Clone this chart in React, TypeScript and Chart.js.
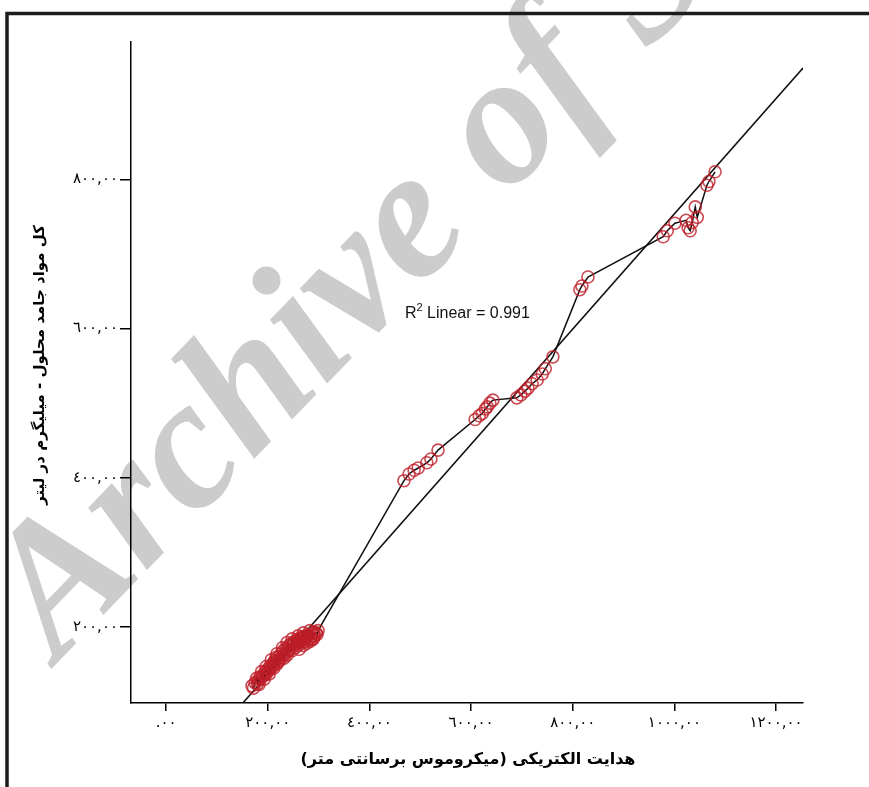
import React, { useEffect, useRef } from "react";
import { Chart, registerables } from "chart.js";

Chart.register(...registerables);

// Electrical conductivity (x) and total dissolved solids (y)
const ecValues = [
  169, 175, 181, 185, 191, 195, 199, 201, 205, 209, 211, 214, 216, 220, 222, 226, 228, 230, 234, 236,
  240, 242, 244, 246, 250, 252, 256, 258, 262, 264, 268, 271, 275, 279, 285, 289, 295, 299,
  183, 193, 203, 212, 218, 224, 232, 238, 248, 254, 260, 266, 273, 281, 287, 292,
  178, 188, 197, 207, 218, 229, 238, 248, 260, 270, 283,
  172, 180, 187, 196, 205, 213, 221, 231, 241, 251, 259, 267, 277, 291, 297,
  262, 270, 277, 284, 290,
  468, 478, 488, 496, 513, 521, 535,
  608, 616, 622, 628, 632, 637, 643,
  690, 698, 706, 712, 720, 730, 740, 746, 761,
  814, 818, 830,
  978, 986, 1001, 1023, 1027, 1031, 1035, 1041, 1045, 1064, 1068, 1080,
];
const tdsValues = [
  121, 125, 128, 133, 135, 140, 139, 144, 148, 147, 152, 155, 159, 153, 160, 164, 159, 168, 163, 171,
  167, 175, 169, 178, 175, 180, 177, 183, 180, 185, 183, 187, 184, 188, 187, 191, 192, 195,
  123, 130, 137, 145, 150, 155, 158, 162, 168, 172, 175, 178, 180, 183, 184, 188,
  131, 140, 147, 156, 164, 172, 179, 184, 188, 192, 195,
  118, 124, 131, 136, 143, 150, 156, 164, 170, 178, 181, 186, 189, 193, 190,
  170, 175, 178, 181, 184,
  396, 405, 410, 413, 420, 425, 437,
  478, 483, 486, 492, 495, 500, 504,
  507, 511, 516, 520, 526, 531, 539, 546, 562,
  652, 657, 669,
  723, 731, 741, 745, 735, 731, 742, 763, 749, 792, 797, 810,
];

// Linear fit line end points
const fitLineX = [151, 1253];
const fitLineY = [98, 949];
const r2Text = "0.991";

const xTickValues = [0, 200, 400, 600, 800, 1000, 1200];
const xTickLabels = [".٠٠", "٢٠٠,٠٠", "٤٠٠,٠٠", "٦٠٠,٠٠", "٨٠٠,٠٠", "١٠٠٠,٠٠", "١٢٠٠,٠٠"];
const yTickValues = [200, 400, 600, 800];
const yTickLabels = ["٢٠٠,٠٠", "٤٠٠,٠٠", "٦٠٠,٠٠", "٨٠٠,٠٠"];

const xTitle = "هدایت الکتریکی (میکروموس برسانتی متر)";
const yTitle = "کل مواد جامد محلول - میلیگرم در لیتر";
const watermark = "Archive of SID";

const decorPlugin = {
  id: "decor",
  beforeDraw(chart: any) {
    const ctx = chart.ctx as CanvasRenderingContext2D;
    ctx.save();
    ctx.fillStyle = "#ffffff";
    ctx.fillRect(0, 0, chart.width, chart.height);
    ctx.translate(58, 662);
    ctx.rotate((-46 * Math.PI) / 180);
    ctx.font = 'italic bold 186px "Liberation Serif"';
    ctx.fillStyle = "#cccccc";
    ctx.textBaseline = "alphabetic";
    ctx.fillText(watermark, 0, 0);
    ctx.restore();
  },
  afterDraw(chart: any) {
    const ctx = chart.ctx as CanvasRenderingContext2D;
    ctx.save();
    // frame
    ctx.strokeStyle = "#1c1c1c";
    ctx.lineWidth = 3.5;
    ctx.strokeRect(7, 13.5, 1200, 1200);

    // x title
    ctx.fillStyle = "#000";
    ctx.direction = "rtl";
    ctx.textAlign = "center";
    ctx.textBaseline = "alphabetic";
    ctx.font = 'bold 16px "DejaVu Sans"';
    ctx.fillText(xTitle, 468, 764);

    // y title
    ctx.save();
    ctx.translate(40, 365);
    ctx.rotate(-Math.PI / 2);
    ctx.textBaseline = "middle";
    ctx.font = 'bold 15px "DejaVu Sans"';
    ctx.fillText(yTitle, 0, 0);
    ctx.restore();

    // R2 annotation
    ctx.direction = "ltr";
    ctx.textAlign = "left";
    ctx.textBaseline = "alphabetic";
    ctx.fillStyle = "#111";
    let x = 405;
    const base = 318;
    ctx.font = '16px "Liberation Sans"';
    ctx.fillText("R", x, base);
    x += ctx.measureText("R").width;
    ctx.font = '11px "Liberation Sans"';
    ctx.fillText("2", x, base - 7);
    x += ctx.measureText("2").width;
    ctx.font = '16px "Liberation Sans"';
    ctx.fillText(" Linear = " + r2Text, x, base);
    ctx.restore();
  },
};

export default function App() {
  const ref = useRef<HTMLCanvasElement | null>(null);

  useEffect(() => {
    if (!ref.current) return;
    const points = ecValues
      .map((v, i) => ({ x: v, y: tdsValues[i] }))
      .sort((a, b) => a.x - b.x);
    const fit = fitLineX.map((v, i) => ({ x: v, y: fitLineY[i] }));
    const chart = new Chart(ref.current, {
      type: "scatter",
      data: {
        datasets: [
          {
            label: "observed",
            data: points,
            showLine: false,
            pointStyle: "circle",
            pointRadius: 6,
            borderWidth: 1.6,
            borderColor: "rgba(190,30,40,0.8)",
            backgroundColor: "rgba(0,0,0,0)",
          },
          {
            label: "fit",
            data: fit,
            showLine: true,
            borderColor: "#111",
            borderWidth: 1.6,
            pointRadius: 0,
            tension: 0,
          },
          {
            label: "interpolation",
            data: points,
            showLine: true,
            borderColor: "#111",
            borderWidth: 1.5,
            pointRadius: 0,
            tension: 0,
          },
        ],
      },
      options: {
        responsive: false,
        animation: false,
        layout: { padding: { top: 42, right: 66, left: 0, bottom: 0 } },
        plugins: {
          legend: { display: false },
          tooltip: { enabled: false },
          title: { display: false },
        },
        scales: {
          x: {
            type: "linear",
            min: -69,
            max: 1253,
            afterBuildTicks: (scale: any) => {
              scale.ticks = xTickValues.map((v) => ({ value: v }));
            },
            afterFit: (scale: any) => {
              scale.height = 84;
            },
            grid: {
              display: true,
              drawOnChartArea: false,
              drawTicks: true,
              tickLength: 8,
              color: "#000",
              lineWidth: 1.5,
            },
            border: { display: true, color: "#000", width: 1.5 },
            ticks: {
              autoSkip: false,
              maxRotation: 0,
              padding: 3,
              color: "#000",
              font: { family: '"DejaVu Sans"', size: 15 },
              callback: (value: any) => xTickLabels[xTickValues.indexOf(Number(value))] ?? "",
            },
          },
          y: {
            type: "linear",
            min: 98,
            max: 984,
            afterBuildTicks: (scale: any) => {
              scale.ticks = yTickValues.map((v) => ({ value: v }));
            },
            afterFit: (scale: any) => {
              scale.width = 131;
            },
            grid: {
              display: true,
              drawOnChartArea: false,
              drawTicks: true,
              tickLength: 11,
              color: "#000",
              lineWidth: 1.5,
            },
            border: { display: true, color: "#000", width: 1.5 },
            ticks: {
              autoSkip: false,
              padding: 2,
              color: "#000",
              font: { family: '"DejaVu Sans"', size: 15 },
              callback: (value: any) => yTickLabels[yTickValues.indexOf(Number(value))] ?? "",
            },
          },
        },
      },
      plugins: [decorPlugin],
    } as any);
    return () => chart.destroy();
  }, []);

  return (
    <div style={{ position: "fixed", left: 0, top: 0, width: 869, height: 787, background: "#fff" }}>
      <canvas ref={ref} width={869} height={787} style={{ width: 869, height: 787, display: "block" }} />
    </div>
  );
}
